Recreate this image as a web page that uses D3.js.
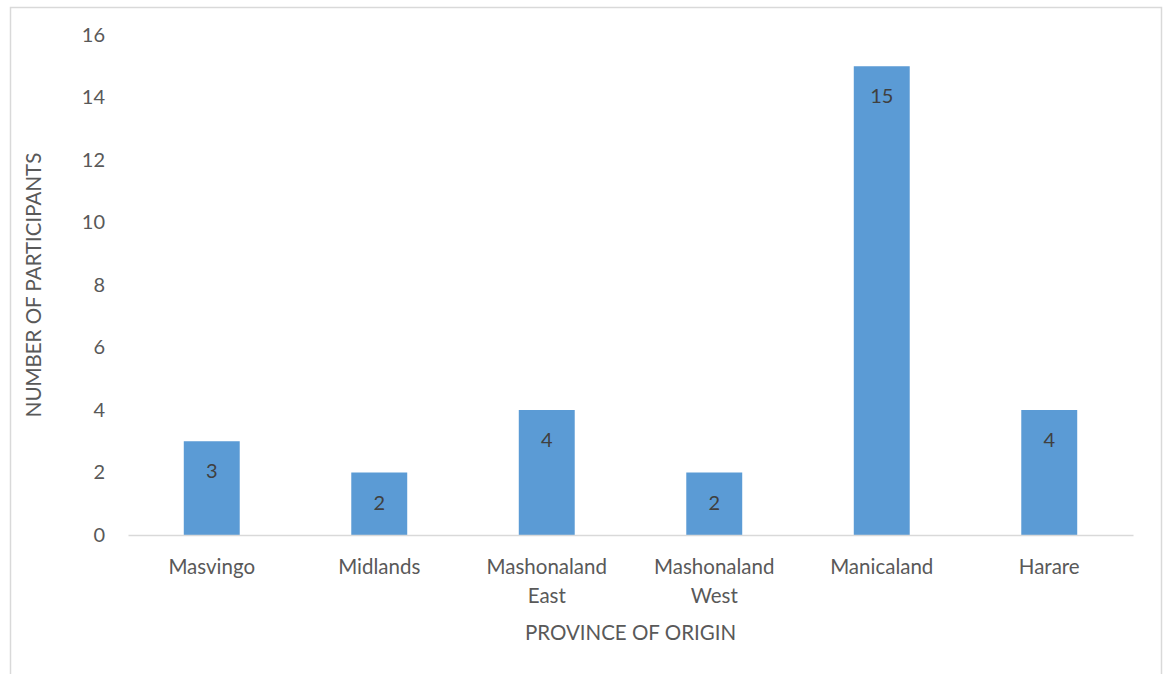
<!DOCTYPE html>
<html>
<head>
<meta charset="utf-8">
<script src="https://cdn.jsdelivr.net/npm/d3@7"></script>
<style>
  html, body { margin: 0; padding: 0; background: #ffffff; }
  svg { display: block; }
  text { font-family: Lato, "Open Sans", sans-serif; }
</style>
</head>
<body>
<svg id="chart" width="1163" height="674"></svg>
<script>
const categories = [["Masvingo"], ["Midlands"], ["Mashonaland", "East"], ["Mashonaland", "West"], ["Manicaland"], ["Harare"]];
const values = [3, 2, 4, 2, 15, 4];
const yTicks = [0, 2, 4, 6, 8, 10, 12, 14, 16];
const yTitle = "NUMBER OF PARTICIPANTS";
const xTitle = "PROVINCE OF ORIGIN";

const svg = d3.select("#chart");

// chart frame
svg.append("rect")
  .attr("x", 10.5).attr("y", 7.5)
  .attr("width", 1151).attr("height", 700)
  .attr("fill", "#ffffff").attr("stroke", "#d9d9d9").attr("stroke-width", 1.5);

const plot = { left: 128, right: 1133, top: 35, bottom: 535 };
const keys = categories.map(c => c.join(" "));

const x = d3.scaleBand()
  .domain(keys)
  .range([plot.left, plot.right])
  .paddingInner(0.666)
  .paddingOuter(0.333);

const y = d3.scaleLinear().domain([0, 16]).range([plot.bottom, plot.top]);

const textColor = "#595959";
const fs = 20.5;

// y axis labels (no line)
const yAxis = d3.axisLeft(y).tickValues(yTicks).tickSize(0).tickPadding(23);
const gy = svg.append("g").attr("transform", `translate(${plot.left},0)`).call(yAxis);
gy.select(".domain").remove();
gy.selectAll("text").attr("fill", textColor).style("font-size", "20px").style("font-family", "Lato, sans-serif");

// bars
svg.append("g").selectAll("rect")
  .data(values)
  .join("rect")
  .attr("x", (d, i) => x(keys[i]))
  .attr("y", d => y(d))
  .attr("width", x.bandwidth())
  .attr("height", d => y(0) - y(d))
  .attr("fill", "#5b9bd5");

// data labels
svg.append("g").selectAll("text")
  .data(values)
  .join("text")
  .attr("x", (d, i) => x(keys[i]) + x.bandwidth() / 2)
  .attr("y", d => y(d) + 30)
  .attr("dy", "0.35em")
  .attr("text-anchor", "middle")
  .attr("fill", "#404040")
  .style("font-size", "20px")
  .text(d => d);

// x axis
const xAxis = d3.axisBottom(x).tickSize(0).tickFormat(() => "");
const gx = svg.append("g").attr("transform", `translate(0,${plot.bottom})`).call(xAxis);
gx.select(".domain").attr("stroke", "#d9d9d9").attr("stroke-width", 1.5);

// category labels (multi-line)
const cl = svg.append("g").selectAll("text")
  .data(categories)
  .join("text")
  .attr("x", (d, i) => x(keys[i]) + x.bandwidth() / 2)
  .attr("y", 574)
  .attr("text-anchor", "middle")
  .attr("fill", textColor)
  .style("font-size", fs + "px");
cl.selectAll("tspan")
  .data(d => d)
  .join("tspan")
  .attr("x", function () { return d3.select(this.parentNode).attr("x"); })
  .attr("dy", (d, i) => i === 0 ? 0 : 29)
  .text(d => d);

// axis titles
svg.append("text")
  .attr("x", (plot.left + plot.right) / 2)
  .attr("y", 640)
  .attr("text-anchor", "middle")
  .attr("fill", textColor)
  .style("font-size", fs + "px")
  .text(xTitle);

svg.append("text")
  .attr("transform", `translate(41,${(plot.top + plot.bottom) / 2}) rotate(-90)`)
  .attr("text-anchor", "middle")
  .attr("fill", textColor)
  .style("font-size", fs + "px")
  .text(yTitle);
</script>
</body>
</html>
